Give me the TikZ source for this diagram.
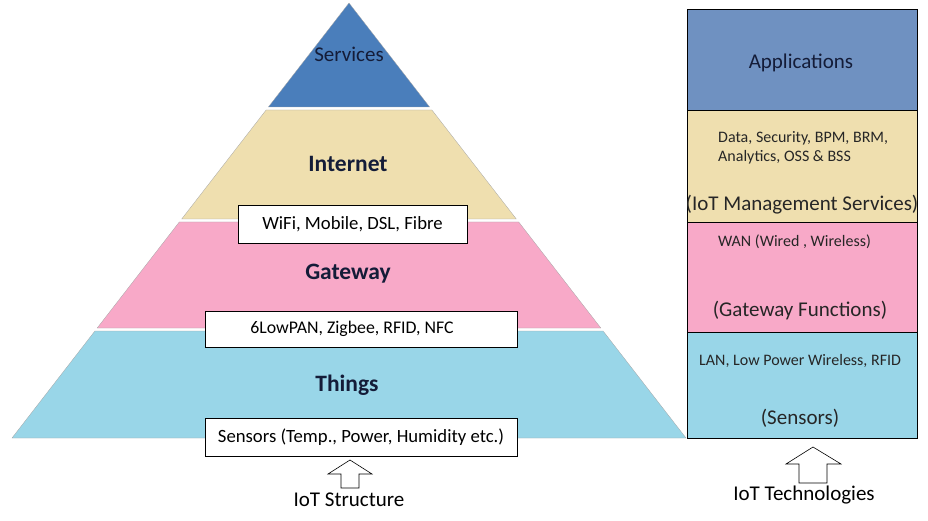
\documentclass[tikz,border=0pt]{standalone}
\usepackage{fontspec}
\setmainfont{Carlito}
\definecolor{svc}{HTML}{4A7EBB}
\definecolor{inet}{HTML}{EFDFAF}
\definecolor{gw}{HTML}{F8A9C8}
\definecolor{thg}{HTML}{99D6E8}
\definecolor{app}{HTML}{6F91C1}
\definecolor{navy}{HTML}{141C38}
\begin{document}
\begin{tikzpicture}[x=1pt,y=-1pt,
  band/.style={draw=black!35,line width=0.3pt},
  lbl/.style={inner sep=0pt,text=navy,font=\fontsize{21}{24}\selectfont},
  blbl/.style={inner sep=0pt,text=navy,font=\fontsize{23.5}{27}\selectfont\bfseries},
  tbox/.style={draw=black,line width=0.6pt,fill=white,inner sep=0pt,font=\fontsize{18.7}{22}\selectfont},
  layer/.style={draw=black,line width=0.6pt},
  small/.style={inner sep=0pt,anchor=west,font=\fontsize{16}{19}\selectfont,text=black!85},
  big/.style={inner sep=0pt,font=\fontsize{21}{25}\selectfont,text=black!85},
  harrow/.style={draw=black,line width=0.6pt,fill=white},
  captxt/.style={inner sep=0pt,font=\fontsize{21}{25}\selectfont}]
\useasboundingbox (0,0) rectangle (928,521);
% pyramid bands
\fill[svc,band] (349,3) -- (429.6,107) -- (268.4,107) -- cycle;
\fill[inet,band] (266.1,110) -- (431.9,110) -- (516.3,219) -- (181.7,219) -- cycle;
\fill[gw,band] (179.3,222) -- (518.7,222) -- (600.8,328) -- (97.2,328) -- cycle;
\fill[thg,band] (94.9,331) -- (603.1,331) -- (686,438) -- (12,438) -- cycle;
% pyramid labels
\node[lbl] (services) at (349,54) {Services};
\node[blbl] (internet) at (348,164) {Internet};
\node[blbl] (gateway) at (348,274) {Gateway};
\node[blbl] (things) at (347,385) {Things};
% boxes
\node[tbox,minimum width=229pt,minimum height=38pt] (wifi) at (352.5,224) {WiFi, Mobile, DSL, Fibre};
\node[tbox,minimum width=312pt,minimum height=36pt,font=\fontsize{17.8}{21}\selectfont] (lowpan) at (361,329) {\hspace*{-18pt}6LowPAN, Zigbee, RFID, NFC};
\node[tbox,minimum width=312pt,minimum height=38pt] (sensors) at (361,437) {Sensors (Temp., Power, Humidity etc.)};
% structure arrow
\draw[harrow] (350,460) -- (372,474) -- (359,474) -- (359,488) -- (341,488) -- (341,474) -- (328,474) -- cycle;
\node[captxt] (struct) at (349,500) {IoT Structure};
% right column
\filldraw[fill=app,layer] (687,9) rectangle (917,110);
\filldraw[fill=inet,layer] (687,110) rectangle (917,222);
\filldraw[fill=gw,layer] (687,222) rectangle (917,332);
\filldraw[fill=thg,layer] (687,332) rectangle (917,438);
\node[big,text=navy] (apps) at (801,63) {Applications};
\node[small] (data1) at (718,138) {Data, Security, BPM, BRM,};
\node[small] (data2) at (718,157) {Analytics, OSS \& BSS};
\node[big] (mgmt) at (802,205) {(IoT Management Services)};
\node[small] (wan) at (718,242) {WAN (Wired , Wireless)};
\node[big] (gwf) at (800,311) {(Gateway Functions)};
\node[small] (lan) at (699,361) {LAN, Low Power Wireless, RFID};
\node[big] (sens) at (800,418) {(Sensors)};
% technologies arrow
\draw[harrow] (813,447) -- (841,464) -- (827,464) -- (827,483) -- (799,483) -- (799,464) -- (786,464) -- cycle;
\node[captxt] (tech) at (804,495) {IoT Technologies};
\end{tikzpicture}
\end{document}
